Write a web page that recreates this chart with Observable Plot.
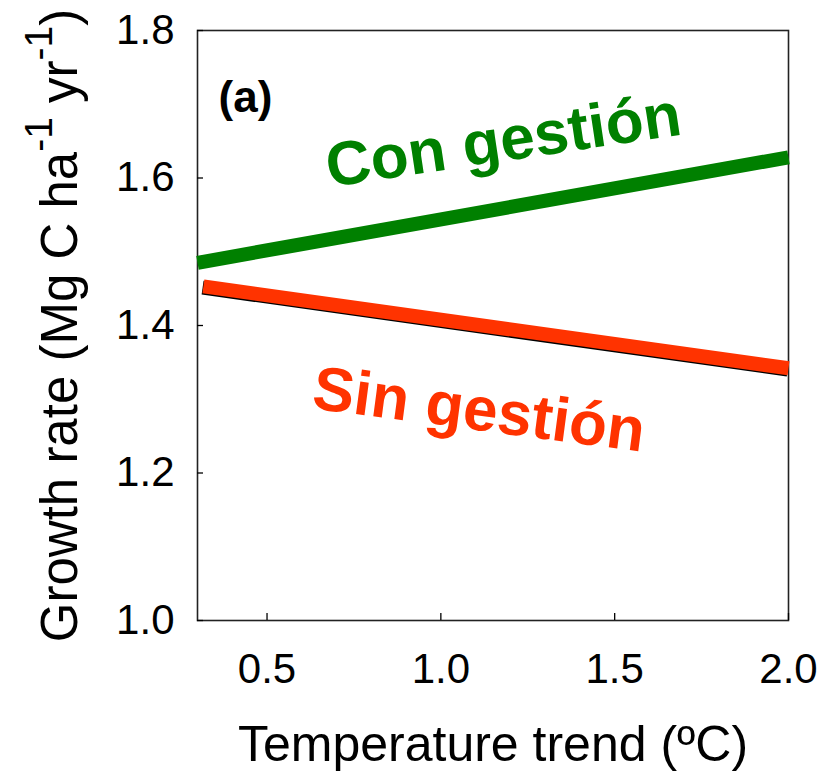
<!DOCTYPE html>
<html><head><meta charset="utf-8">
<script src="https://cdn.jsdelivr.net/npm/d3@7"></script>
<script src="https://cdn.jsdelivr.net/npm/@observablehq/plot@0.6"></script>
<style>body{margin:0;background:#fff}</style>
</head><body><div id="chart"></div>
<script>
const xTicks = [0.5, 1.0, 1.5, 2.0];
const yTicks = [1.0, 1.2, 1.4, 1.6, 1.8];
const conX = [0.30, 2.0];
const conY = [1.485, 1.628];
const sinX = [0.317, 2.0];
const sinY = [1.453, 1.342];
const seriesLabels = ["Con gestión", "Sin gestión"];
const labelX = [1.18, 1.11];
const labelY = [1.650, 1.285];
const labelRotate = [-8.5, 7.5];
const panelLabel = ["(a)"];
const panelX = [0.438];
const panelY = [1.708];
const xTitle = "Temperature trend (ºC)";
const yTitle = "Growth rate (Mg C ha-1 yr-1)";
const conColor = "#008000", sinColor = "#ff3300";

const conData = conX.map((x, i) => ({x, y: conY[i]}));
const sinData = sinX.map((x, i) => ({x, y: sinY[i]}));
const labels = seriesLabels.map((t, i) => ({t, x: labelX[i], y: labelY[i], r: labelRotate[i], c: i === 0 ? conColor : sinColor}));

const svg = Plot.plot({
  width: 832, height: 771,
  marginLeft: 197, marginRight: 44, marginTop: 30, marginBottom: 151,
  style: {fontFamily: "'Liberation Sans', Arial, sans-serif", background: "#fff", color: "#000"},
  x: {domain: [0.3, 2.0]},
  y: {domain: [1.0, 1.8]},
  marks: [
    Plot.frame({stroke: "#222", strokeWidth: 1.6}),
    Plot.tickX(xTicks, {x: d => d, insetTop: 583, stroke: "#000", strokeWidth: 1.3}),
    Plot.tickY(yTicks, {y: d => d, insetRight: 585, stroke: "#000", strokeWidth: 1.3}),
    Plot.axisX(xTicks, {tickSize: 0, tickPadding: 33, fontSize: 42, tickFormat: d3.format(".1f"), label: null}),
    Plot.axisY(yTicks, {tickSize: 0, tickPadding: 23, fontSize: 42, tickFormat: d3.format(".1f"), label: null}),
    Plot.line(sinData, {x: "x", y: "y", stroke: "#000", strokeWidth: 14, dx: -0.8, dy: 1.2, strokeLinecap: "butt"}),
    Plot.line(sinData, {x: "x", y: "y", stroke: sinColor, strokeWidth: 14, strokeLinecap: "butt"}),
    Plot.line(conData, {x: "x", y: "y", stroke: conColor, strokeWidth: 14, strokeLinecap: "butt"}),
    Plot.text(labels, {x: "x", y: "y", text: "t", rotate: "r", fill: "c", fontSize: 62, fontWeight: "bold", textAnchor: "middle", lineAnchor: "middle"}),
    Plot.text(panelLabel, {x: panelX, y: panelY, text: d => d, fontSize: 44, fontWeight: "bold", fill: "#000", textAnchor: "middle", lineAnchor: "middle"}),
    Plot.text([xTitle], {frameAnchor: "bottom", dy: 124, text: d => d, fontSize: 50, fill: "#000", textAnchor: "middle", lineAnchor: "middle"}),
    Plot.text([yTitle], {frameAnchor: "left", dx: -137, rotate: -90, text: d => d, fontSize: 51, fill: "#000", textAnchor: "middle", lineAnchor: "middle"})
  ]
});

// superscripts in the y-axis title
d3.select(svg).selectAll("text").filter(function() { return this.textContent === yTitle; }).each(function() {
  const t = d3.select(this);
  t.text(null);
  const parts = [["Growth rate (Mg C ha", false], ["-1", true], [" yr", false], ["-1", true], [")", false]];
  let prevSup = false;
  for (const [s, sup] of parts) {
    const ts = t.append("tspan").text(s);
    if (sup) ts.attr("font-size", 39).attr("dy", -25);
    else if (prevSup) ts.attr("dy", 25);
    prevSup = sup;
  }
});

document.getElementById("chart").appendChild(svg);
</script>
</body></html>
